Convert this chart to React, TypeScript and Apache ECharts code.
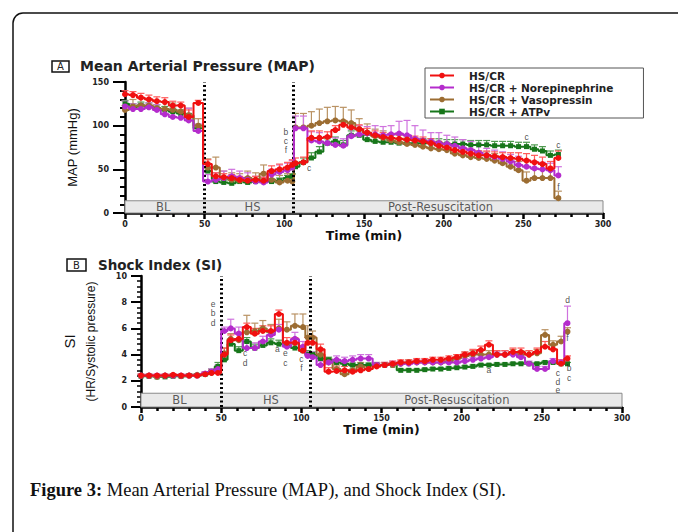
import React, { useEffect, useRef } from "react";
import * as echarts from "echarts";

// ---------- DATA ----------
const seriesNames = ["HS/CR", "HS/CR + Norepinephrine", "HS/CR + Vasopressin", "HS/CR + ATPv"];

// Panel A: Mean Arterial Pressure (mmHg)
const mapTimes = [0, 5, 10, 15, 20, 25, 30, 35, 40, 46,
  52, 57, 62, 67, 72, 77, 82, 87, 92, 97, 102, 105,
  107, 112, 117, 122, 127, 132, 137, 142, 147, 152, 157, 162, 167, 172, 177, 182, 187, 192, 197, 202,
  207, 212, 217, 222, 227, 232, 237, 242, 247, 252, 257, 262, 267, 272];
const mapRed = [136, 135, 132, 130, 128, 127, 123, 123, 110, 126,
  56, 42, 41, 40, 38, 37, 38, 37, 48, 50, 52, 55,
  57, 58, 86, 86, 87, 95, 101, 98, 96, 92, 89, 87, 86, 85, 84, 83, 82, 80, 77, 75,
  72, 70, 68, 66, 66, 65, 64, 63, 62, 60, 58, 56, 51, 63];
const mapPurple = [122, 119, 119, 121, 118, 113, 110, 109, 106, 94,
  36, 38, 40, 42, 40, 38, 36, 35, 44, 47, 49, 52,
  97, 97, 83, 82, 80, 78, 77, 88, 90, 91, 90, 89, 90, 91, 89, 85, 83, 82, 80, 79,
  77, 74, 72, 69, 66, 64, 62, 59, 55, 53, 51, 50, 49, 43];
const mapBrown = [118, 122, 123, 123, 120, 119, 118, 116, 112, 100,
  52, 52, 40, 38, 37, 40, 38, 45, 38, 35, 37, 36,
  98, 98, 100, 103, 105, 106, 105, 103, 96, 92, 88, 86, 83, 81, 79, 78, 76, 74, 73, 72,
  68, 66, 64, 63, 62, 60, 57, 53, 49, 37, 40, 40, 40, 17];
const mapGreen = [125, 121, 123, 122, 120, 118, 116, 114, 110, 97,
  48, 36, 35, 34, 36, 35, 36, 36, 36, 37, 40, 42,
  53, 58, 63, 70, 80, 82, 78, 89, 89, 84, 82, 81, 81, 80, 80, 80, 80, 80, 80, 79,
  79, 79, 78, 78, 78, 77, 77, 77, 76, 76, 73, 71, 66, 67];
const mapRedErr = [4, 4, 5, 5, 5, 5, 5, 4, 8, 3,
  5, 4, 4, 4, 4, 4, 4, 4, 6, 6, 6, 6,
  6, 6, 8, 8, 6, 5, 5, 5, 5, 5, 5, 5, 5, 5, 5, 5, 5, 5, 5, 5,
  5, 5, 5, 5, 5, 5, 5, 6, 7, 8, 8, 8, 8, 8];
const mapPurpleErr = [6, 6, 6, 5, 6, 6, 8, 8, 14, 8,
  8, 8, 8, 8, 8, 8, 6, 6, 6, 8, 8, 8,
  14, 14, 10, 10, 8, 8, 8, 8, 10, 8, 10, 10, 10, 14, 17, 15, 12, 10, 12, 10,
  10, 10, 10, 10, 8, 8, 8, 8, 10, 8, 8, 8, 8, 10];
const mapBrownErr = [5, 8, 8, 8, 8, 8, 8, 8, 8, 8,
  10, 12, 8, 8, 8, 8, 8, 10, 8, 8, 8, 8,
  16, 16, 16, 16, 16, 16, 16, 15, 12, 10, 8, 8, 8, 8, 8, 8, 8, 8, 8, 8,
  8, 8, 8, 8, 8, 8, 8, 8, 10, 10, 10, 10, 10, 8];
const mapGreenErr = [4, 4, 4, 4, 4, 4, 4, 4, 4, 4,
  4, 3, 3, 3, 3, 3, 3, 3, 3, 3, 3, 3,
  5, 5, 6, 6, 5, 5, 5, 5, 5, 5, 5, 5, 5, 5, 5, 5, 5, 5, 5, 5,
  5, 5, 5, 5, 5, 5, 5, 5, 5, 5, 5, 5, 5, 5];

// Panel B: Shock Index (HR/Systolic pressure)
const siTimes = [0, 5, 10, 15, 20, 25, 30, 35, 40, 44, 48,
  52, 56, 61, 66, 71, 76, 81, 86, 91, 96, 101, 104,
  107, 112, 117, 122, 127, 132, 137, 142, 147, 152, 157, 162, 167, 172, 177, 182, 187, 192, 197, 202,
  207, 212, 217, 222, 227, 232, 237, 242, 247, 252, 257, 262, 266];
const siRed = [2.4, 2.4, 2.4, 2.4, 2.45, 2.4, 2.4, 2.4, 2.5, 2.6, 2.6,
  4.0, 5.1, 5.2, 6.1, 5.6, 5.8, 5.8, 7.1, 4.9, 4.9, 4.3, 4.9,
  4.9, 4.4, 2.7, 2.75, 2.8, 2.7, 2.8, 2.9, 3.1, 3.2, 3.3, 3.4, 3.4, 3.5, 3.5, 3.6, 3.6, 3.7, 3.8, 4.0,
  4.1, 4.35, 4.75, 4.0, 4.0, 4.2, 4.2, 4.0, 4.2, 4.6, 4.4, 3.3, 3.7];
const siPurple = [2.4, 2.4, 2.4, 2.4, 2.4, 2.4, 2.4, 2.4, 2.55, 2.7, 2.9,
  5.8, 6.0, 5.6, 4.5, 4.5, 5.0, 5.5, 5.9, 4.6, 5.2, 4.6, 3.9,
  3.8, 3.2, 3.4, 3.6, 3.5, 3.6, 3.7, 3.7, 3.2, 3.2, 3.3, 3.3, 3.3, 3.4, 3.4, 3.4, 3.4, 3.4, 3.4, 3.5,
  3.6, 3.7, 3.8, 4.0, 4.0, 4.0, 3.8, 3.3, 2.9, 2.9, 3.5, 3.4, 6.4];
const siBrown = [2.4, 2.4, 2.3, 2.4, 2.4, 2.35, 2.4, 2.45, 2.5, 2.6, 2.8,
  4.1, 5.2, 5.1, 5.7, 5.8, 6.0, 5.7, 6.0, 5.9, 6.2, 6.1, 5.3,
  5.3, 4.0, 3.4, 2.9, 2.5, 2.8, 3.1, 2.9, 3.2, 3.2, 3.2, 3.3, 3.4, 3.4, 3.4, 3.4, 3.4, 3.5, 3.7, 3.9,
  4.0, 4.0, 4.0, 4.0, 4.0, 4.1, 4.0, 4.0, 4.1, 5.5, 4.75, 5.0, 5.75];
const siGreen = [2.35, 2.35, 2.3, 2.3, 2.35, 2.35, 2.4, 2.4, 2.5, 2.7, 3.1,
  3.6, 4.8, 4.3, 5.0, 4.5, 4.7, 4.9, 4.8, 4.7, 4.5, 4.3, 4.0,
  4.0, 3.7, 3.6, 3.4, 3.3, 3.2, 3.2, 3.2, 3.2, 3.2, 3.2, 2.8, 2.8, 2.8, 2.85, 2.9, 2.9, 2.95, 3.0, 3.05,
  3.1, 3.2, 3.2, 3.25, 3.25, 3.3, 3.3, 3.3, 3.3, 3.4, 3.4, 3.3, 3.3];
const siRedErr = [0.1, 0.1, 0.1, 0.1, 0.1, 0.1, 0.1, 0.1, 0.15, 0.2, 0.4,
  0.5, 0.4, 0.4, 0.3, 0.4, 0.4, 0.4, 0.3, 0.4, 0.4, 0.4, 0.4,
  0.5, 0.4, 0.3, 0.3, 0.3, 0.2, 0.2, 0.2, 0.2, 0.2, 0.2, 0.2, 0.2, 0.2, 0.2, 0.2, 0.2, 0.2, 0.2, 0.2,
  0.3, 0.3, 0.3, 0.3, 0.3, 0.3, 0.3, 0.3, 0.3, 0.4, 0.4, 0.3, 0.2];
const siPurpleErr = [0.1, 0.1, 0.1, 0.1, 0.1, 0.1, 0.1, 0.1, 0.15, 0.2, 0.3,
  0.3, 0.7, 0.5, 0.4, 0.4, 0.4, 0.4, 0.4, 0.4, 0.5, 0.4, 0.3,
  0.4, 0.3, 0.2, 0.3, 0.3, 0.3, 0.3, 0.3, 0.2, 0.2, 0.2, 0.2, 0.2, 0.2, 0.2, 0.2, 0.2, 0.2, 0.2, 0.2,
  0.2, 0.2, 0.2, 0.2, 0.3, 0.2, 0.2, 0.2, 0.2, 0.2, 0.2, 0.2, 1.3];
const siBrownErr = [0.1, 0.1, 0.1, 0.1, 0.1, 0.1, 0.1, 0.1, 0.15, 0.2, 0.3,
  0.4, 0.4, 0.6, 1.3, 0.6, 0.6, 0.6, 0.7, 0.6, 0.9, 1.0, 0.9,
  0.5, 0.3, 0.3, 0.3, 0.3, 0.3, 0.3, 0.3, 0.2, 0.2, 0.2, 0.2, 0.2, 0.2, 0.2, 0.2, 0.2, 0.2, 0.3, 0.3,
  0.3, 0.3, 0.3, 0.3, 0.3, 0.3, 0.3, 0.3, 0.3, 0.4, 0.3, 0.4, 0.3];
const siGreenErr = [0.1, 0.1, 0.1, 0.1, 0.1, 0.1, 0.1, 0.1, 0.15, 0.2, 0.3,
  0.3, 0.3, 0.3, 0.3, 0.3, 0.3, 0.3, 0.3, 0.3, 0.3, 0.3, 0.3,
  0.2, 0.2, 0.2, 0.2, 0.15, 0.15, 0.15, 0.15, 0.15, 0.15, 0.15, 0.1, 0.1, 0.1, 0.1, 0.1, 0.1, 0.1, 0.1, 0.1,
  0.1, 0.1, 0.1, 0.1, 0.1, 0.1, 0.1, 0.1, 0.1, 0.1, 0.1, 0.1, 0.1];

// Phase band labels [time, value, text]
const phaseLabelsA: [number, number, string][] = [[24, 7, "BL"], [80, 7, "HS"], [198, 7, "Post-Resuscitation"]];
const phaseLabelsB: [number, number, string][] = [[24, 0.5, "BL"], [81, 0.5, "HS"], [197, 0.5, "Post-Resuscitation"]];
const phaseBoundaries = [50, 105.5];

// Significance letters [time, value, letter]
const lettersA: [number, number, string][] = [
  [101, 93, "b"], [101, 82.5, "c"], [101, 72, "f"],
  [115.5, 52, "c"], [252, 87, "c"], [272, 78, "c"], [272, 30, "f"],
];
const lettersB: [number, number, string][] = [
  [45, 7.85, "e"], [45, 7.15, "b"], [45, 6.45, "d"],
  [65, 4.1, "c"], [65, 3.33, "d"], [85, 4.4, "a"], [90, 4.1, "e"], [90, 3.33, "c"],
  [100, 3.66, "c"], [100, 2.95, "f"], [217, 2.82, "a"],
  [260, 2.6, "c"], [260, 1.93, "d"], [260, 1.26, "e"],
  [267, 3.0, "b"], [267, 2.24, "c"], [266, 8.2, "d"], [266, 5.24, "f"],
];

// ---------- STYLE ----------
const colors = ["#f01010", "#b42ccc", "#9c6d32", "#17761a"];
const errColors = ["#ff5a5a", "#cf72de", "#b99263", "#4f9a4f"];
const symbols = ["circle", "circle", "circle", "rect"];
const boldFont = "DejaVu Sans";
const narrowFont = "'Liberation Sans Narrow', 'Liberation Sans', Arial, sans-serif";

function lineSeries(idx: number, axis: number, times: number[], vals: number[]) {
  return {
    type: "line",
    name: seriesNames[idx],
    xAxisIndex: axis,
    yAxisIndex: axis,
    data: times.map((t, i) => [t, vals[i]]),
    step: "middle",
    symbol: symbols[idx],
    symbolSize: idx === 3 ? 5 : 6,
    showSymbol: true,
    itemStyle: { color: colors[idx] },
    lineStyle: { color: colors[idx], width: 2 },
    z: 3 + (3 - idx),
  };
}

function errSeries(idx: number, axis: number, times: number[], vals: number[], errs: number[]) {
  const c = errColors[idx];
  return {
    type: "custom",
    name: seriesNames[idx] + " SEM",
    xAxisIndex: axis,
    yAxisIndex: axis,
    silent: true,
    z: 2,
    data: times.map((t, i) => [t, vals[i], vals[i] + errs[i]]),
    renderItem: (params: any, api: any) => {
      const p0 = api.coord([api.value(0), api.value(1)]);
      const p1 = api.coord([api.value(0), api.value(2)]);
      return {
        type: "group",
        children: [
          { type: "line", shape: { x1: p0[0], y1: p0[1], x2: p1[0], y2: p1[1] }, style: { stroke: c, lineWidth: 1.2 } },
          { type: "line", shape: { x1: p1[0] - 3.5, y1: p1[1], x2: p1[0] + 3.5, y2: p1[1] }, style: { stroke: c, lineWidth: 1.2 } },
        ],
      };
    },
  };
}

function phaseSeries(axis: number, labels: [number, number, string][], bandTop: number) {
  return {
    type: "scatter",
    xAxisIndex: axis,
    yAxisIndex: axis,
    silent: true,
    symbolSize: 1,
    itemStyle: { color: "transparent" },
    z: 1,
    data: labels,
    label: {
      show: true,
      position: "inside",
      formatter: (p: any) => p.data[2],
      fontFamily: boldFont,
      fontSize: 11.5,
      color: "#333",
    },
    markArea: {
      silent: true,
      itemStyle: { color: "#e9e9e9", borderColor: "#8a8a8a", borderWidth: 1 },
      data: [[{ coord: [0, 0] }, { coord: [300, bandTop] }]],
    },
    markLine: {
      silent: true,
      symbol: "none",
      label: { show: false },
      lineStyle: { color: "#000", width: 3, type: [2, 2.5] },
      data: phaseBoundaries.map((b) => ({ xAxis: b })),
    },
  };
}

function letterSeries(axis: number, letters: [number, number, string][]) {
  return {
    type: "scatter",
    xAxisIndex: axis,
    yAxisIndex: axis,
    silent: true,
    symbolSize: 1,
    itemStyle: { color: "transparent" },
    z: 10,
    data: letters,
    label: {
      show: true,
      position: "inside",
      formatter: (p: any) => p.data[2],
      fontFamily: "Liberation Sans",
      fontSize: 8.5,
      lineHeight: 7,
      color: "#222",
    },
  };
}

function xAxisCfg(gridIndex: number, nameGap: number) {
  return {
    gridIndex,
    type: "value",
    min: 0,
    max: 300,
    interval: 50,
    axisLine: { show: true, onZero: false, lineStyle: { color: "#000", width: 2.5 } },
    axisTick: { show: true, length: 6, lineStyle: { color: "#000", width: 2.5 } },
    minorTick: { show: true, splitNumber: 5, length: 4, lineStyle: { color: "#000", width: 2.5 } },
    splitLine: { show: false },
    minorSplitLine: { show: false },
    axisLabel: { fontFamily: boldFont, fontWeight: "bold", fontSize: 8, color: "#222", margin: 7 },
    name: "Time (min)",
    nameLocation: "middle",
    nameGap,
    nameTextStyle: { fontFamily: boldFont, fontWeight: "bold", fontSize: 12.5, color: "#111" },
  };
}

export default function App() {
  const ref = useRef<HTMLDivElement>(null);
  useEffect(() => {
    if (!ref.current) return;
    const chart = echarts.init(ref.current, undefined, { renderer: "svg" });
    const mapVals = [mapRed, mapPurple, mapBrown, mapGreen];
    const mapErrs = [mapRedErr, mapPurpleErr, mapBrownErr, mapGreenErr];
    const siVals = [siRed, siPurple, siBrown, siGreen];
    const siErrs = [siRedErr, siPurpleErr, siBrownErr, siGreenErr];

    const series: any[] = [
      phaseSeries(0, phaseLabelsA, 14),
      phaseSeries(1, phaseLabelsB, 1.05),
    ];
    [3, 2, 1, 0].forEach((i) => {
      series.push(errSeries(i, 0, mapTimes, mapVals[i], mapErrs[i]));
      series.push(errSeries(i, 1, siTimes, siVals[i], siErrs[i]));
    });
    [3, 2, 1, 0].forEach((i) => {
      series.push(lineSeries(i, 0, mapTimes, mapVals[i]));
      series.push(lineSeries(i, 1, siTimes, siVals[i]));
    });
    series.push(letterSeries(0, lettersA));
    series.push(letterSeries(1, lettersB));

    const option: any = {
      animation: false,
      backgroundColor: "#fff",
      grid: [
        { left: 125, top: 82, width: 478, height: 131 },
        { left: 141, top: 276, width: 481, height: 131 },
      ],
      xAxis: [xAxisCfg(0, 13), xAxisCfg(1, 15)],
      yAxis: [
        {
          gridIndex: 0,
          type: "value",
          min: 0,
          max: 150,
          interval: 50,
          axisLine: { show: true, lineStyle: { color: "#000", width: 2.5 } },
          axisTick: { show: true, length: 12, lineStyle: { color: "#000", width: 2 } },
          minorTick: { show: true, splitNumber: 5, length: 5, lineStyle: { color: "#000", width: 2 } },
          splitLine: { show: false },
          axisLabel: { fontFamily: boldFont, fontWeight: "bold", fontSize: 8, color: "#222", margin: 16 },
          name: "MAP (mmHg)",
          nameLocation: "middle",
          nameGap: 46,
          nameTextStyle: { fontFamily: narrowFont, fontSize: 13, color: "#111" },
        },
        {
          gridIndex: 1,
          type: "value",
          min: 0,
          max: 10,
          interval: 2,
          axisLine: { show: true, lineStyle: { color: "#000", width: 2.5 } },
          axisTick: { show: true, length: 10, lineStyle: { color: "#000", width: 2 } },
          minorTick: { show: true, splitNumber: 5, length: 4, lineStyle: { color: "#000", width: 1.5 } },
          splitLine: { show: false },
          axisLabel: { fontFamily: boldFont, fontWeight: "bold", fontSize: 8, color: "#222", margin: 14 },
          name: "{a|SI}\n{b|(HR/Systolic pressure)}",
          nameLocation: "middle",
          nameGap: 43,
          nameTextStyle: {
            fontFamily: narrowFont,
            fontSize: 12,
            color: "#111",
            rich: {
              a: { fontFamily: narrowFont, fontSize: 15, lineHeight: 30, color: "#111" },
              b: { fontFamily: narrowFont, fontSize: 12, lineHeight: 14, color: "#111" },
            },
          },
        },
      ],
      legend: {
        data: seriesNames,
        orient: "vertical",
        left: 425,
        top: 68,
        borderColor: "#555",
        borderWidth: 1,
        padding: [2, 30, 1, 4],
        itemWidth: 24,
        itemHeight: 7,
        itemGap: 1,
        textStyle: {
          fontFamily: boldFont,
          fontWeight: "bold",
          fontSize: 10.5,
          color: "#222",
          padding: [0, 0, 0, 10],
        },
      },
      graphic: [
        { type: "rect", shape: { x: 13, y: 13, width: 700, height: 600, r: 10 }, style: { fill: "none", stroke: "#111", lineWidth: 1.5 } },
        { type: "rect", shape: { x: 52, y: 61, width: 17, height: 11 }, style: { fill: "#fff", stroke: "#111", lineWidth: 1.5 } },
        { type: "text", x: 60.5, y: 66.5, style: { text: "A", fontFamily: boldFont, fontSize: 10, fill: "#222", textAlign: "center", textVerticalAlign: "middle" } },
        { type: "text", x: 80, y: 66, style: { text: "Mean Arterial Pressure (MAP)", fontFamily: boldFont, fontWeight: "bold", fontSize: 14, fill: "#222", textVerticalAlign: "middle" } },
        { type: "rect", shape: { x: 67, y: 259, width: 19, height: 12 }, style: { fill: "#fff", stroke: "#111", lineWidth: 1.5 } },
        { type: "text", x: 76.5, y: 265, style: { text: "B", fontFamily: boldFont, fontSize: 10, fill: "#222", textAlign: "center", textVerticalAlign: "middle" } },
        { type: "text", x: 98, y: 264.5, style: { text: "Shock Index (SI)", fontFamily: boldFont, fontWeight: "bold", fontSize: 13.5, fill: "#222", textVerticalAlign: "middle" } },
        {
          type: "text",
          x: 30,
          y: 490,
          style: {
            text: "{b|Figure 3:} Mean Arterial Pressure (MAP), and Shock Index (SI).",
            fontFamily: "'Liberation Serif', serif",
            fontSize: 18.5,
            fill: "#111",
            textVerticalAlign: "middle",
            rich: { b: { fontFamily: "'Liberation Serif', serif", fontWeight: "bold", fontSize: 18.5, fill: "#111" } },
          },
        },
      ],
      series,
    };
    chart.setOption(option);
    return () => chart.dispose();
  }, []);
  return <div ref={ref} style={{ position: "fixed", left: 0, top: 0, width: 678, height: 532, background: "#fff" }} />;
}
